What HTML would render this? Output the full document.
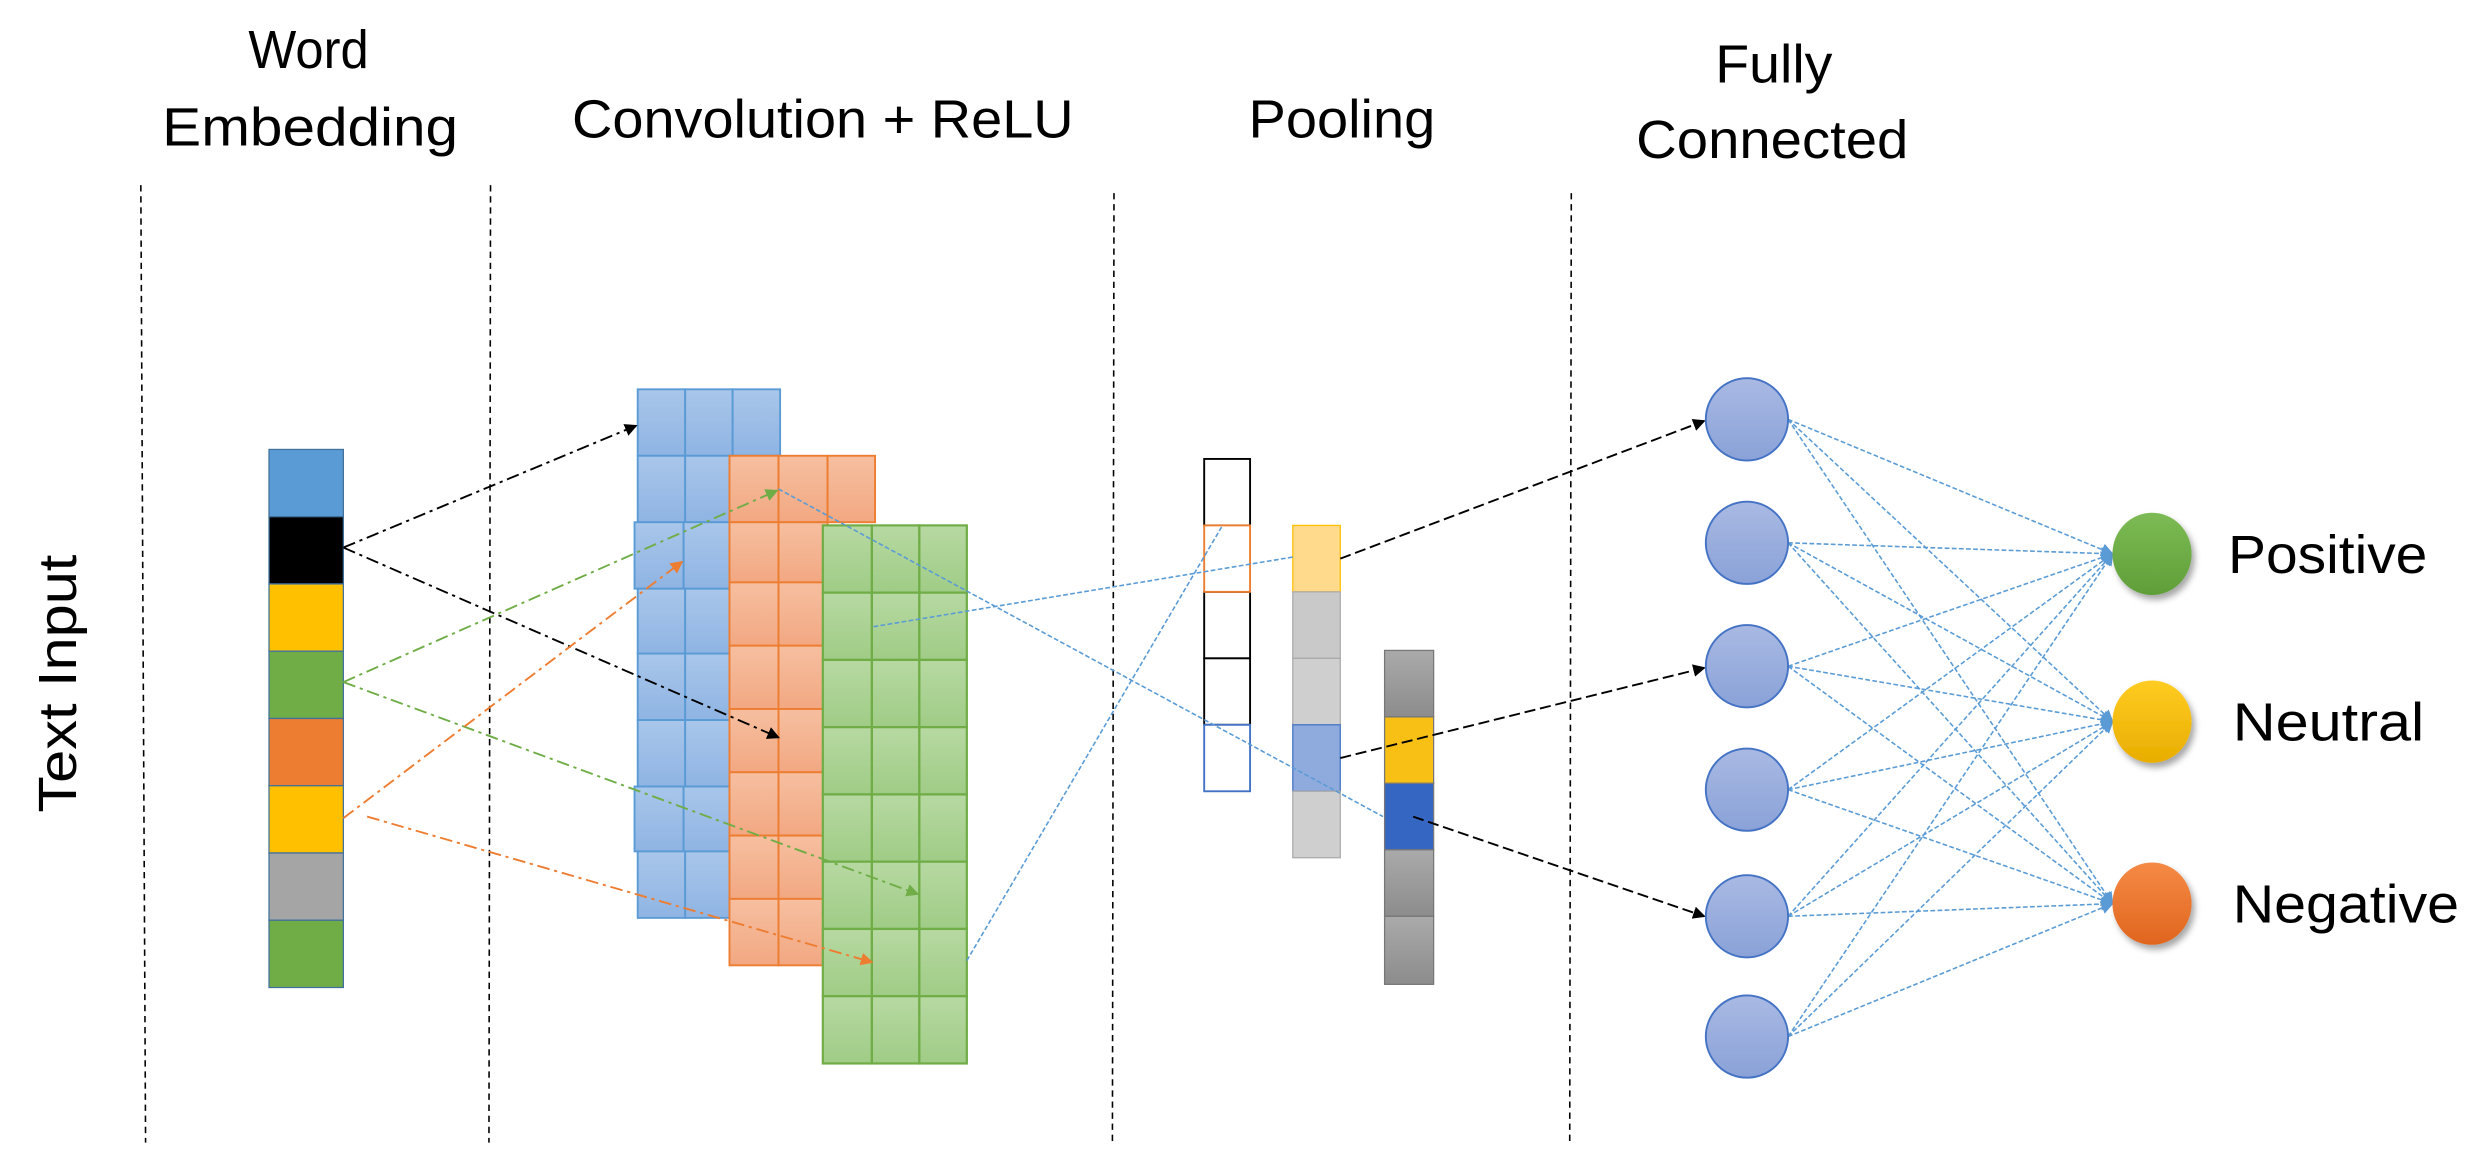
<!DOCTYPE html>
<html><head><meta charset="utf-8"><style>
html,body{margin:0;padding:0;background:#fff;}
svg{display:block;}
text{font-family:"Liberation Sans",sans-serif;fill:#000;}
</style></head><body>
<svg width="2478" height="1160" viewBox="0 0 1566 733" preserveAspectRatio="none" xmlns="http://www.w3.org/2000/svg">
<defs>
<linearGradient id="gb" x1="0" y1="0" x2="0" y2="1"><stop offset="0" stop-color="#a9c6ea"/><stop offset="1" stop-color="#8fb4e3"/></linearGradient>
<linearGradient id="go" x1="0" y1="0" x2="0" y2="1"><stop offset="0" stop-color="#f6bfa0"/><stop offset="1" stop-color="#f2a882"/></linearGradient>
<linearGradient id="gg" x1="0" y1="0" x2="0" y2="1"><stop offset="0" stop-color="#b7d9a2"/><stop offset="1" stop-color="#9fcc86"/></linearGradient>
<linearGradient id="gn" x1="0" y1="0" x2="0" y2="1"><stop offset="0" stop-color="#a9b9e3"/><stop offset="1" stop-color="#8aa2d8"/></linearGradient>
<linearGradient id="gG" x1="0" y1="0" x2="0" y2="1"><stop offset="0" stop-color="#7dbb55"/><stop offset="1" stop-color="#5f9e38"/></linearGradient>
<linearGradient id="gY" x1="0" y1="0" x2="0" y2="1"><stop offset="0" stop-color="#ffcc22"/><stop offset="1" stop-color="#e8ad00"/></linearGradient>
<linearGradient id="gO" x1="0" y1="0" x2="0" y2="1"><stop offset="0" stop-color="#f58a45"/><stop offset="1" stop-color="#e0651e"/></linearGradient>
<linearGradient id="gr" x1="0" y1="0" x2="0" y2="1"><stop offset="0" stop-color="#aaa"/><stop offset="1" stop-color="#8c8c8c"/></linearGradient>
<marker id="ak" markerWidth="8" markerHeight="8" refX="7" refY="4" orient="auto" markerUnits="userSpaceOnUse"><path d="M0,0L8,4L0,8z" fill="#000"/></marker>
<marker id="ag" markerWidth="8" markerHeight="8" refX="7" refY="4" orient="auto" markerUnits="userSpaceOnUse"><path d="M0,0L8,4L0,8z" fill="#70AD47"/></marker>
<marker id="ao" markerWidth="8" markerHeight="8" refX="7" refY="4" orient="auto" markerUnits="userSpaceOnUse"><path d="M0,0L8,4L0,8z" fill="#ED7D31"/></marker>
<marker id="ab" markerWidth="8" markerHeight="8" refX="7" refY="4" orient="auto" markerUnits="userSpaceOnUse"><path d="M0,0L8,4L0,8z" fill="#5B9BD5"/></marker>
<filter id="sh" x="-50%" y="-50%" width="200%" height="200%"><feDropShadow dx="2" dy="3" stdDeviation="2" flood-opacity="0.35"/></filter>
</defs>

<text x="195" y="43" font-size="34" text-anchor="middle" textLength="76" lengthAdjust="spacingAndGlyphs">Word</text>
<text x="196" y="92" font-size="34" text-anchor="middle" textLength="187" lengthAdjust="spacingAndGlyphs">Embedding</text>
<text x="520" y="87" font-size="34" text-anchor="middle" textLength="317" lengthAdjust="spacingAndGlyphs">Convolution + ReLU</text>
<text x="848" y="87" font-size="34" text-anchor="middle" textLength="118" lengthAdjust="spacingAndGlyphs">Pooling</text>
<text x="1121" y="52" font-size="34" text-anchor="middle" textLength="74" lengthAdjust="spacingAndGlyphs">Fully</text>
<text x="1120" y="100" font-size="34" text-anchor="middle" textLength="172" lengthAdjust="spacingAndGlyphs">Connected</text>
<text transform="translate(48,432) rotate(-90)" font-size="34" text-anchor="middle" textLength="163" lengthAdjust="spacingAndGlyphs">Text Input</text>

<g stroke="#000" stroke-width="1" stroke-dasharray="4,3" fill="none">
<line x1="89" y1="117" x2="92" y2="722"/>
<line x1="310" y1="117" x2="309" y2="722"/>
<line x1="704" y1="122" x2="703" y2="722"/>
<line x1="993" y1="122" x2="992" y2="722"/>
</g>

<g stroke="#41719C" stroke-width="0.8">
<rect x="170" y="284" width="47" height="42.5" fill="#5B9BD5"/>
<rect x="170" y="326.5" width="47" height="42.5" fill="#000"/>
<rect x="170" y="369" width="47" height="42.5" fill="#FFC000"/>
<rect x="170" y="411.5" width="47" height="42.5" fill="#70AD47"/>
<rect x="170" y="454" width="47" height="42.5" fill="#ED7D31"/>
<rect x="170" y="496.5" width="47" height="42.5" fill="#FFC000"/>
<rect x="170" y="539" width="47" height="42.5" fill="#A5A5A5"/>
<rect x="170" y="581.5" width="47" height="42.5" fill="#70AD47"/>
</g>

<g stroke="#5B9BD5" stroke-width="1.2" fill="url(#gb)">
<rect x="403" y="246" width="30" height="42"/><rect x="433" y="246" width="30" height="42"/><rect x="463" y="246" width="30" height="42"/>
<rect x="403" y="288" width="30" height="42"/><rect x="433" y="288" width="30" height="42"/><rect x="463" y="288" width="30" height="42"/>
<rect x="401" y="330" width="31" height="42"/><rect x="432" y="330" width="31" height="42"/><rect x="463" y="330" width="30" height="42"/>
<rect x="403" y="372" width="30" height="41"/><rect x="433" y="372" width="30" height="41"/><rect x="463" y="372" width="30" height="41"/>
<rect x="403" y="413" width="30" height="42"/><rect x="433" y="413" width="30" height="42"/><rect x="463" y="413" width="30" height="42"/>
<rect x="403" y="455" width="30" height="42"/><rect x="433" y="455" width="30" height="42"/><rect x="463" y="455" width="30" height="42"/>
<rect x="401" y="497" width="31" height="41"/><rect x="432" y="497" width="31" height="41"/><rect x="463" y="497" width="30" height="41"/>
<rect x="403" y="538" width="30" height="42"/><rect x="433" y="538" width="30" height="42"/><rect x="463" y="538" width="30" height="42"/>
</g>
<g stroke="#ED7D31" stroke-width="1.2" fill="url(#go)">
<rect x="461" y="288" width="31" height="42"/><rect x="492" y="288" width="31" height="42"/><rect x="523" y="288" width="30" height="42"/>
<rect x="461" y="330" width="31" height="38"/><rect x="492" y="330" width="31" height="38"/>
<rect x="461" y="368" width="31" height="40"/><rect x="492" y="368" width="31" height="40"/>
<rect x="461" y="408" width="31" height="40"/><rect x="492" y="408" width="31" height="40"/>
<rect x="461" y="448" width="31" height="40"/><rect x="492" y="448" width="31" height="40"/>
<rect x="461" y="488" width="31" height="40"/><rect x="492" y="488" width="31" height="40"/>
<rect x="461" y="528" width="31" height="40"/><rect x="492" y="528" width="31" height="40"/>
<rect x="461" y="568" width="31" height="42"/><rect x="492" y="568" width="31" height="42"/>
</g>
<g stroke="#70AD47" stroke-width="1.4" fill="url(#gg)">
<rect x="520" y="332" width="31" height="42.5"/><rect x="551" y="332" width="30" height="42.5"/><rect x="581" y="332" width="30" height="42.5"/>
<rect x="520" y="374.5" width="31" height="42.5"/><rect x="551" y="374.5" width="30" height="42.5"/><rect x="581" y="374.5" width="30" height="42.5"/>
<rect x="520" y="417" width="31" height="42.5"/><rect x="551" y="417" width="30" height="42.5"/><rect x="581" y="417" width="30" height="42.5"/>
<rect x="520" y="459.5" width="31" height="42.5"/><rect x="551" y="459.5" width="30" height="42.5"/><rect x="581" y="459.5" width="30" height="42.5"/>
<rect x="520" y="502" width="31" height="42.5"/><rect x="551" y="502" width="30" height="42.5"/><rect x="581" y="502" width="30" height="42.5"/>
<rect x="520" y="544.5" width="31" height="42.5"/><rect x="551" y="544.5" width="30" height="42.5"/><rect x="581" y="544.5" width="30" height="42.5"/>
<rect x="520" y="587" width="31" height="42.5"/><rect x="551" y="587" width="30" height="42.5"/><rect x="581" y="587" width="30" height="42.5"/>
<rect x="520" y="629.5" width="31" height="42.5"/><rect x="551" y="629.5" width="30" height="42.5"/><rect x="581" y="629.5" width="30" height="42.5"/>
</g>

<g fill="#fff" stroke-width="1.2">
<rect x="761" y="290" width="29" height="42" stroke="#000"/>
<rect x="761" y="374" width="29" height="42" stroke="#000"/>
<rect x="761" y="416" width="29" height="42" stroke="#000"/>
<rect x="761" y="332" width="29" height="42" stroke="#ED7D31"/>
<rect x="761" y="458" width="29" height="42" stroke="#4472C4"/>
</g>
<g stroke="#aaa" stroke-width="0.8">
<rect x="817" y="332" width="30" height="42" fill="#FFD98C" stroke="#FFC000"/>
<rect x="817" y="374" width="30" height="42" fill="#c9c9c9"/>
<rect x="817" y="416" width="30" height="42" fill="#cfcfcf"/>
<rect x="817" y="458" width="30" height="42" fill="#8FAADC" stroke="#4472C4"/>
<rect x="817" y="500" width="30" height="42" fill="#cfcfcf"/>
</g>
<g stroke="#777" stroke-width="0.8">
<rect x="875" y="411" width="31" height="42" fill="url(#gr)"/>
<rect x="875" y="453" width="31" height="42" fill="#F8BF14"/>
<rect x="875" y="495" width="31" height="42" fill="#3566C2"/>
<rect x="875" y="537" width="31" height="42" fill="url(#gr)"/>
<rect x="875" y="579" width="31" height="43" fill="url(#gr)"/>
</g>

<g fill="none" stroke-width="1.2" stroke-dasharray="8,3,2,3">
<line x1="217" y1="346" x2="402" y2="269" stroke="#000" marker-end="url(#ak)"/>
<line x1="217" y1="346" x2="492" y2="466" stroke="#000" marker-end="url(#ak)"/>
<line x1="217" y1="431" x2="491" y2="310" stroke="#70AD47" marker-end="url(#ag)"/>
<line x1="217" y1="431" x2="580" y2="565" stroke="#70AD47" marker-end="url(#ag)"/>
<line x1="217" y1="517" x2="431" y2="355" stroke="#ED7D31" marker-end="url(#ao)"/>
<line x1="232" y1="516" x2="551" y2="608" stroke="#ED7D31" marker-end="url(#ao)"/>
</g>
<g fill="none" stroke="#5B9BD5" stroke-width="1" stroke-dasharray="3,1.5">
<line x1="492" y1="309" x2="874" y2="516"/>
<line x1="552" y1="396" x2="817" y2="352"/>
<line x1="611" y1="607" x2="772" y2="333"/>
</g>
<g fill="none" stroke="#000" stroke-width="1.2" stroke-dasharray="7,3">
<line x1="847" y1="353" x2="1077" y2="266" marker-end="url(#ak)"/>
<line x1="847" y1="479" x2="1077" y2="422" marker-end="url(#ak)"/>
<line x1="893" y1="516" x2="1077" y2="579" marker-end="url(#ak)"/>
</g>

<g fill="none" stroke="#5B9BD5" stroke-width="1" stroke-dasharray="3,1.5">
<line x1="1130" y1="265" x2="1335" y2="350" marker-end="url(#ab)"/><line x1="1130" y1="265" x2="1335" y2="456" marker-end="url(#ab)"/><line x1="1130" y1="265" x2="1335" y2="571" marker-end="url(#ab)"/>
<line x1="1130" y1="343" x2="1335" y2="350" marker-end="url(#ab)"/><line x1="1130" y1="343" x2="1335" y2="456" marker-end="url(#ab)"/><line x1="1130" y1="343" x2="1335" y2="571" marker-end="url(#ab)"/>
<line x1="1130" y1="421" x2="1335" y2="350" marker-end="url(#ab)"/><line x1="1130" y1="421" x2="1335" y2="456" marker-end="url(#ab)"/><line x1="1130" y1="421" x2="1335" y2="571" marker-end="url(#ab)"/>
<line x1="1130" y1="499" x2="1335" y2="350" marker-end="url(#ab)"/><line x1="1130" y1="499" x2="1335" y2="456" marker-end="url(#ab)"/><line x1="1130" y1="499" x2="1335" y2="571" marker-end="url(#ab)"/>
<line x1="1130" y1="579" x2="1335" y2="350" marker-end="url(#ab)"/><line x1="1130" y1="579" x2="1335" y2="456" marker-end="url(#ab)"/><line x1="1130" y1="579" x2="1335" y2="571" marker-end="url(#ab)"/>
<line x1="1130" y1="655" x2="1335" y2="350" marker-end="url(#ab)"/><line x1="1130" y1="655" x2="1335" y2="456" marker-end="url(#ab)"/><line x1="1130" y1="655" x2="1335" y2="571" marker-end="url(#ab)"/>
</g>

<g fill="url(#gn)" stroke="#4472C4" stroke-width="1.2">
<ellipse cx="1104" cy="265" rx="26" ry="26"/>
<ellipse cx="1104" cy="343" rx="26" ry="26"/>
<ellipse cx="1104" cy="421" rx="26" ry="26"/>
<ellipse cx="1104" cy="499" rx="26" ry="26"/>
<ellipse cx="1104" cy="579" rx="26" ry="26"/>
<ellipse cx="1104" cy="655" rx="26" ry="26"/>
</g>
<g filter="url(#sh)">
<ellipse cx="1360" cy="350" rx="25" ry="26" fill="url(#gG)"/>
<ellipse cx="1360" cy="456" rx="25" ry="26" fill="url(#gY)"/>
<ellipse cx="1360" cy="571" rx="25" ry="26" fill="url(#gO)"/>
</g>
<text x="1408" y="362" font-size="34" textLength="126" lengthAdjust="spacingAndGlyphs">Positive</text>
<text x="1411" y="468" font-size="34" textLength="121" lengthAdjust="spacingAndGlyphs">Neutral</text>
<text x="1411" y="583" font-size="34" textLength="143" lengthAdjust="spacingAndGlyphs">Negative</text>
</svg>
</body></html>
